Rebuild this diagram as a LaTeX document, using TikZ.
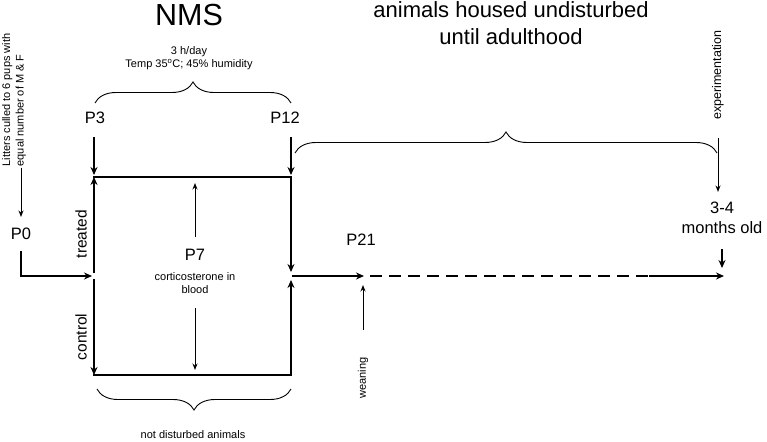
\documentclass[tikz,border=0pt]{standalone}
\usepackage{fontspec}
\setmainfont{Liberation Sans}
\usetikzlibrary{arrows.meta, decorations.pathreplacing, calc}

\begin{document}
\begin{tikzpicture}[x=1pt, y=-1pt, >={Stealth[length=6.5pt, width=5pt]},
    title/.style={font=\fontsize{22}{27}\selectfont, align=center, inner sep=0pt},
    lbl/.style={font=\fontsize{16.5}{20}\selectfont, align=center, inner sep=1pt},
    note/.style={font=\fontsize{11}{13.5}\selectfont, align=center, inner sep=1pt},
    heavy/.style={line width=2.6pt, line cap=rect, >={Stealth[length=8pt, width=7pt]}},
    fine/.style={line width=1pt},
    brc/.style={decorate, decoration={brace, amplitude=21pt}, line width=0.9pt}]
  \useasboundingbox (0,0) rectangle (767,441);

  % corners of the box
  \coordinate (TL) at (94,177);
  \coordinate (TR) at (291,177);
  \coordinate (BL) at (94,375);
  \coordinate (BR) at (291,375);
  \coordinate (ML) at (94,276);
  \coordinate (MR) at (291,276);
  \coordinate (W)  at (364,276);
  \coordinate (D)  at (650,276);
  \coordinate (E)  at (724,276);

  % texts
  \node[title, font=\fontsize{30.5}{31}\selectfont] (nms) at (189,15) {NMS};
  \node[note] (cond) at (189,58) {3 h/day\\Temp 35\textsuperscript{o}C; 45\% humidity};
  \node[title] (adult) at (511,23.5) {animals housed undisturbed\\until adulthood};
  \node[note, rotate=90, align=left] (litter) at (14,100)
        {Litters culled to 6 pups with\\equal number of M \& F};
  \node[lbl] (P0)  at (21,234)  {P0};
  \node[lbl] (P3)  at (95,118)  {P3};
  \node[lbl] (P12) at (285,118) {P12};
  \node[lbl] (P7)  at (195,255) {P7};
  \node[note, font=\fontsize{11}{12.5}\selectfont] (cort) at (195,283) {corticosterone in\\blood};
  \node[lbl] (P21) at (361,240) {P21};
  \node[lbl, rotate=90, font=\fontsize{15.5}{18}\selectfont] (treat) at (81,234) {treated};
  \node[lbl, rotate=90, font=\fontsize{15.5}{18}\selectfont] (ctrl)  at (81,337) {control};
  \node[note, rotate=90] (wean) at (363,378) {weaning};
  \node[note, rotate=90, font=\fontsize{12.5}{14}\selectfont] (expt) at (718,75) {experimentation};
  \node[lbl] (age) at (722,218) {3-4\\months old};
  \node[note] (nd) at (193,435) {not disturbed animals};

  % braces
  \draw[brc] (95,103) -- (291,103);
  \draw[brc] (295,153) -- (717,153);
  \draw[brc] (291,389) -- (97,389);

  % start at P0
  \draw[fine, ->, shorten >=10pt] (P0.north |- litter.west) -- (P0.north);
  \draw[heavy, ->, shorten <=11pt] (P0.south) |- ([xshift=-2pt]ML);

  % P3 and P12
  \draw[heavy, ->, shorten <=13pt] (P3.south -| TL) -- ([yshift=2pt]TL);
  \draw[heavy, ->, shorten <=13pt] (P12.south -| TR) -- ([yshift=2pt]TR);

  % treated and control groups
  \draw[heavy, ->] ([yshift=4pt]ML) -- (TL);
  \draw[heavy, ->] ([yshift=-4pt]ML) -- (BL);
  \draw[heavy, ->] (TL) -- (TR) -- ([yshift=4pt]MR);
  \draw[heavy, ->] (BL) -- (BR) -- ([yshift=-4pt]MR);

  % sampling at P7
  \draw[fine, ->, shorten <=11pt, shorten >=6pt] (P7.north) -- (P7.north |- TL);
  \draw[fine, ->, shorten <=14pt, shorten >=5pt] (cort.south) -- (cort.south |- BL);

  % to adulthood
  \draw[heavy, ->] ([xshift=2pt]MR) -- (W);
  \draw[heavy, line cap=butt, dash pattern=on 12pt off 7pt] ([xshift=6pt]W) -- (D);
  \draw[heavy, ->] (D) -- (E);
  \draw[fine, ->, shorten <=26.5pt, shorten >=9pt] (wean.east) -- (wean.east |- W);

  % experimentation
  \draw[fine, ->, shorten <=17.5pt, shorten >=9pt] (expt.west) -- (expt.west |- age.north);
  \draw[heavy, ->, shorten <=15pt, shorten >=8pt] (age.south) -- (age.south |- E);
\end{tikzpicture}
\end{document}
